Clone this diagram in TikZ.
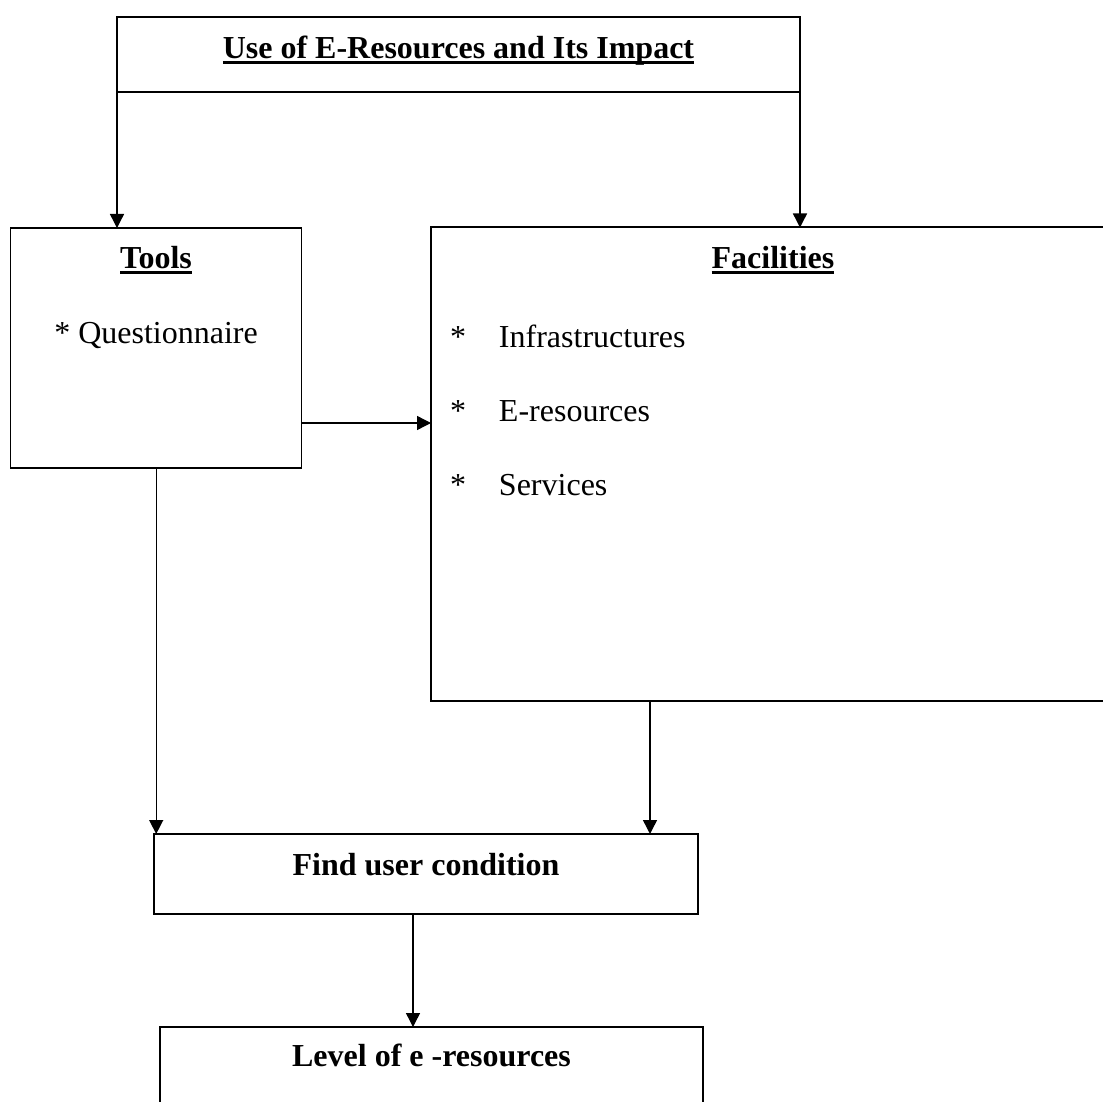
\documentclass[tikz,border=0pt]{standalone}
\usepackage{fontspec}
\setmainfont{Liberation Serif}
\usetikzlibrary{arrows.meta}
\newcommand{\myul}[1]{\setbox0\hbox{#1}\rlap{\rule[-5.5pt]{\wd0}{2.4pt}}\box0}
\begin{document}
\begin{tikzpicture}[x=1pt,y=-1pt,
  boxnode/.style={draw,line width=1.5pt,rectangle,inner sep=0pt,outer sep=0pt,anchor=north west},
  arr/.style={line width=1.4pt,-{Triangle[length=14pt,width=14pt]}},
  txt/.style={inner sep=0pt,outer sep=0pt,anchor=base,font=\fontsize{32}{40}\selectfont},
  btxt/.style={txt,font=\fontsize{32}{40}\selectfont\bfseries},
  txtl/.style={inner sep=0pt,outer sep=0pt,anchor=base west,font=\fontsize{32}{40}\selectfont}]
\useasboundingbox[fill=white] (0,0) rectangle (1103,1102);
% boxes
\node[boxnode,minimum width=683pt,minimum height=75pt] (top) at (117,17) {};
\node[boxnode,minimum width=291pt,minimum height=240pt] (tools) at (10.7,228) {};
\node[boxnode,line width=2pt,minimum width=700pt,minimum height=473pt] (fac) at (431,227.5) {};
\node[boxnode,minimum width=544pt,minimum height=80pt] (find) at (154,834) {};
\node[boxnode,minimum width=543pt,minimum height=120pt] (level) at (160,1027) {};
% texts
\node[btxt] (ttop) at (458.5,58.3) {\myul{Use of E-Resources and Its Impact}};
\node[btxt] (ttools) at (156,268.3) {\myul{Tools}};
\node[txt] (tq) at (156,343.3) {* Questionnaire};
\node[btxt] (tfac) at (773,268) {\myul{Facilities}};
\node[txtl] (f1) at (450,347.7) {\makebox[49pt][l]{*}Infrastructures};
\node[txtl] (f2) at (450,421.7) {\makebox[49pt][l]{*}E-resources};
\node[txtl] (f3) at (450,495) {\makebox[49pt][l]{*}Services};
\node[btxt] (tfind) at (426,875) {Find user condition};
\node[btxt] (tlevel) at (431.5,1066.7) {Level of e -resources};
% helper coordinates
\coordinate (mid) at (0,423);
\coordinate (fx) at (650,0);
\coordinate (lx) at (413,0);
% connectors
\draw[arr] (top.south west) -- (top.south west |- tools.north);
\draw[arr] (top.south east) -- (top.south east |- fac.north);
\draw[arr] (tools.east |- mid) -- (fac.west |- mid);
\draw[arr] (tools.south) -- (tools.south |- find.north);
\draw[arr] (fx |- fac.south) -- (fx |- find.north);
\draw[arr] (lx |- find.south) -- (lx |- level.north);
\end{tikzpicture}
\end{document}
